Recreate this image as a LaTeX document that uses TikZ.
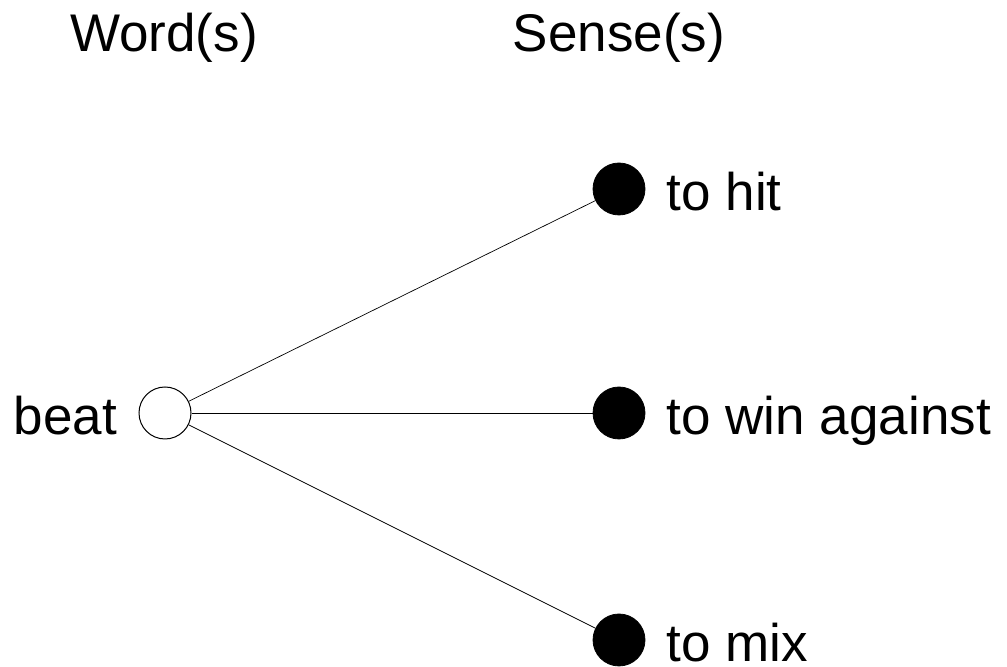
\documentclass[tikz,border=0pt]{standalone}
\usepackage{fontspec}
\setmainfont{Liberation Sans}
\usepackage{tikz}
\usetikzlibrary{
  	positioning,
  	calc
  }
\tikzstyle{wordnode}=[circle,draw,fill=white,line width=0.5pt,minimum size=26pt,inner sep=0pt]
\tikzstyle{sensenode}=[circle,fill=black,draw,minimum size=26pt,inner sep=0pt]
\tikzstyle{lbl}=[inner sep=0pt,font=\fontsize{26.5}{30}\selectfont,text height=19pt,text depth=0pt]
\tikzstyle{edge}=[line width=0.35pt]

\begin{document}
\begin{tikzpicture}[x=0.5pt,y=0.5pt]
  \useasboundingbox (0,0) rectangle (1007,667);
  \node [wordnode] (beat) at (165,254) {};
  \node [sensenode] (hit) at (619,478) {};
  \node [sensenode] (win) at (619,254) {};
  \node [sensenode] (mix) at (619,27) {};
%
  \node [lbl, left=10.5pt of beat, yshift=-1.5pt] (beatl) {beat};
  \node [lbl, right=10.5pt of hit, yshift=-1.5pt] (hitl) {to hit};
  \node [lbl, right=10.5pt of win, yshift=-1.5pt] (winl) {to win against};
  \node [lbl, right=10.5pt of mix, yshift=-1.5pt] (mixl) {to mix};
%
  \node [lbl, anchor=base] (words) at (164,615) {Word(s)};
  \node [lbl, anchor=base] (senses) at (619,615) {Sense(s)};
%
  \draw [edge] (beat) -- (hit);
  \draw [edge] (beat) -- (win);
  \draw [edge] (beat) -- (mix);
\end{tikzpicture}
\end{document}
